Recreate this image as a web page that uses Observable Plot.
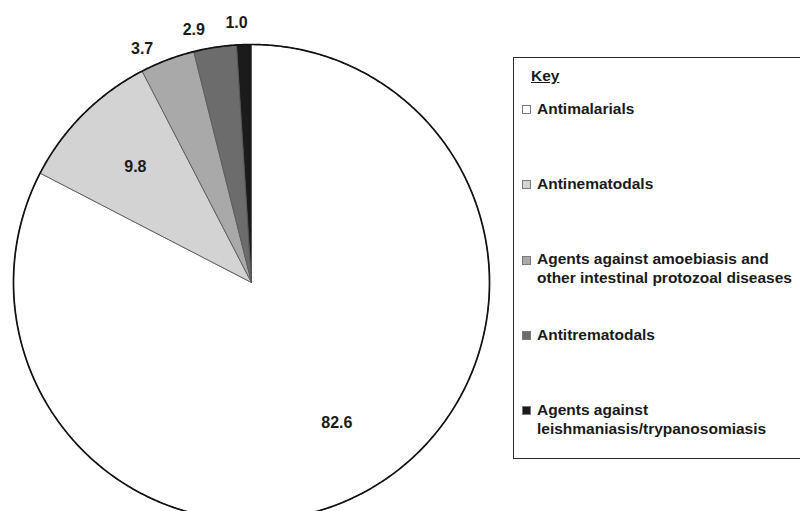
<!DOCTYPE html>
<html>
<head>
<meta charset="utf-8">
<script src="https://cdn.jsdelivr.net/npm/d3@7"></script>
<script src="https://cdn.jsdelivr.net/npm/@observablehq/plot@0.6"></script>
<style>
  html, body { margin: 0; padding: 0; background: #fff; }
  #wrap { position: relative; width: 800px; height: 511px; overflow: hidden;
          font-family: "Liberation Sans", Arial, Helvetica, sans-serif; }
  #wrap svg { position: absolute; left: 0; top: 0; }
  #key { position: absolute; left: 513px; top: 57px; width: 320px; height: 402px;
         box-sizing: border-box; border: 1px solid #2a2a2a; background: #fff; }
  #key .title { position: absolute; left: 17px; font-size: 15.5px; font-weight: bold;
                line-height: 16px; text-decoration: underline; color: #1a1a1a; }
  #key .item { position: absolute; left: 23px; font-size: 15.5px; font-weight: bold;
               line-height: 18.5px; white-space: pre; color: #1a1a1a; }
  #key .sw { position: absolute; left: 8px; width: 9px; height: 9px; box-sizing: border-box;
             border: 1px solid #7a7a7a; }
</style>
</head>
<body>
<div id="wrap"></div>
<script>
// Share of each drug class (%)
const categories = [
  "Antimalarials",
  "Antinematodals",
  "Agents against amoebiasis and other intestinal protozoal diseases",
  "Antitrematodals",
  "Agents against leishmaniasis/trypanosomiasis"
];
const shares = [82.6, 9.8, 3.7, 2.9, 1.0];
const shades = ["#ffffff", "#d3d3d3", "#a9a9a9", "#6c6c6c", "#1b1b1b"];
const keyLabels = [
  "Antimalarials",
  "Antinematodals",
  "Agents against amoebiasis and\nother intestinal protozoal diseases",
  "Antitrematodals",
  "Agents against\nleishmaniasis/trypanosomiasis"
];

// Pie layout: clockwise from 12 o'clock, in the given order
const arcs = d3.pie().sort(null).value(d => d)(shares);
const slices = arcs.map((a, i) => ({
  key: categories[i], value: shares[i], start: a.startAngle, end: a.endAngle,
  mid: (a.startAngle + a.endAngle) / 2
}));

// Slice outlines as closed polygons on the unit circle
const step = Math.PI / 360;
const slicePts = slices.flatMap(s => {
  const n = Math.max(2, Math.ceil((s.end - s.start) / step));
  const pts = [{key: s.key, x: 0, y: 0}];
  for (let k = 0; k <= n; k++) {
    const a = s.start + (s.end - s.start) * k / n;
    pts.push({key: s.key, x: Math.sin(a), y: Math.cos(a)});
  }
  pts.push({key: s.key, x: 0, y: 0});
  return pts;
});
const rim = d3.range(0, 721).map(k => {
  const a = k * step;
  return {x: Math.sin(a), y: Math.cos(a)};
});

const inside = slices.filter(s => s.value >= 5)
  .map(s => ({x: 0.69 * Math.sin(s.mid), y: 0.69 * Math.cos(s.mid), text: s.value.toFixed(1)}));
const outside = slices.filter(s => s.value < 5)
  .map(s => ({x: Math.sin(s.start), y: Math.cos(s.start), text: s.value.toFixed(1)}));

const chart = Plot.plot({
  width: 800,
  height: 511,
  marginLeft: 13,
  marginRight: 311,
  marginTop: 44,
  marginBottom: 0,
  x: {domain: [-1, 1], axis: null},
  y: {domain: [-0.962, 1], axis: null},
  color: {domain: categories, range: shades},
  style: {fontFamily: "'Liberation Sans', Arial, Helvetica, sans-serif", overflow: "visible", background: "transparent"},
  marks: [
    Plot.line(slicePts, {x: "x", y: "y", z: "key", fill: "key", stroke: "#5a5a5a", strokeWidth: 0.9, curve: "linear"}),
    Plot.line(rim, {x: "x", y: "y", stroke: "#111", strokeWidth: 1.7, curve: "linear"}),
    Plot.text(inside, {x: "x", y: "y", text: "text", fontSize: 16, fontWeight: "bold", fill: "#1a1a1a"}),
    Plot.text(outside, {x: "x", y: "y", text: "text", dy: -22, fontSize: 16, fontWeight: "bold", fill: "#1a1a1a"})
  ]
});

const wrap = document.getElementById("wrap");
wrap.appendChild(chart);

// Key box on the right
const key = document.createElement("div");
key.id = "key";
const boxTop = 57 + 1;
const title = document.createElement("div");
title.className = "title";
title.textContent = "Key";
title.style.top = (81 - 12.9 - boxTop) + "px";
key.appendChild(title);

categories.forEach((c, i) => {
  const baseline = 114.3 + 75.35 * i;
  const sw = document.createElement("div");
  sw.className = "sw";
  sw.style.background = shades[i];
  sw.style.top = (baseline - 9.5 - boxTop) + "px";
  key.appendChild(sw);
  const t = document.createElement("div");
  t.className = "item";
  t.textContent = keyLabels[i];
  t.style.top = (baseline - 14.6 - boxTop) + "px";
  key.appendChild(t);
});
wrap.appendChild(key);
</script>
</body>
</html>
